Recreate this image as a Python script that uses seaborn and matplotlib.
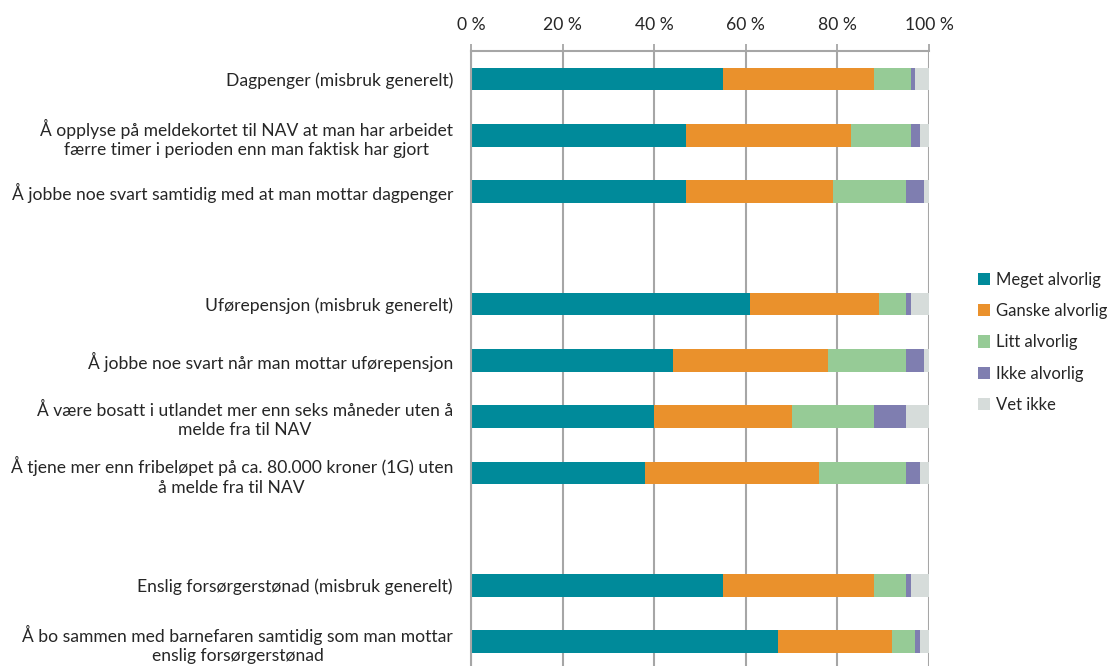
import numpy as np
import pandas as pd
import seaborn as sns
import matplotlib.pyplot as plt
from matplotlib.patches import Patch

# spørsmål (tomme plasser gir mellomrom mellom gruppene)
kategorier = [
    "Dagpenger (misbruk generelt)",
    "Å opplyse på meldekortet til NAV at man har arbeidet\nfærre timer i perioden enn man faktisk har gjort",
    "Å jobbe noe svart samtidig med at man mottar dagpenger",
    "Uførepensjon (misbruk generelt)",
    "Å jobbe noe svart når man mottar uførepensjon",
    "Å være bosatt i utlandet mer enn seks måneder uten å\nmelde fra til NAV",
    "Å tjene mer enn fribeløpet på ca. 80.000 kroner (1G) uten\nå melde fra til NAV",
    "Enslig forsørgerstønad (misbruk generelt)",
    "Å bo sammen med barnefaren samtidig som man mottar\nenslig forsørgerstønad",
]
rekkefolge = kategorier[:3] + [" "] + kategorier[3:7] + ["  "] + kategorier[7:]

serier = ["Meget alvorlig", "Ganske alvorlig", "Litt alvorlig", "Ikke alvorlig", "Vet ikke"]
meget = [55, 47, 47, 61, 44, 40, 38, 55, 67]
ganske = [33, 36, 32, 28, 34, 30, 38, 33, 25]
litt = [8, 13, 16, 6, 17, 18, 19, 7, 5]
ikke = [1, 2, 4, 1, 4, 7, 3, 1, 1]
vet_ikke = [3, 2, 1, 4, 1, 5, 2, 4, 2]
farger = ["#008A9A", "#EA912C", "#96CB96", "#7F7EB0", "#D6DCDA"]

df = pd.DataFrame({"kategori": kategorier, serier[0]: meget, serier[1]: ganske,
                   serier[2]: litt, serier[3]: ikke, serier[4]: vet_ikke})
# kumulative summer for stablede søyler
kum = df[serier].cumsum(axis=1)
kum["kategori"] = df["kategori"]

sns.set_style("white")
plt.rcParams["font.family"] = ["Lato", "DejaVu Sans"]
fs = 12.6

fig = plt.figure(figsize=(11.09, 6.66), dpi=100)
ax = fig.add_axes([0.4247, -0.0056, 0.413, 0.929])

# tegner bakerste serie først
for s, c in reversed(list(zip(serier, farger))):
    sns.barplot(data=kum, x=s, y="kategori", order=rekkefolge, color=c,
                width=0.4, linewidth=0, saturation=1, ax=ax)

ax.set_xlim(0, 100)
ax.set_ylim(len(rekkefolge) - 0.5, -0.5)
ax.set_xlabel("")
ax.set_ylabel("")
ax.xaxis.tick_top()
ax.set_xticks(np.arange(0, 101, 20))
ax.set_xticklabels([f"{v} %" for v in range(0, 101, 20)], fontsize=fs)
ax.tick_params(axis="x", which="major", length=5, width=1.3, color="#A6A6A6", pad=8)
ax.grid(axis="x", color="#A6A6A6", linewidth=1.5)
ax.set_axisbelow(True)

# etiketter midt på radene, streker på grensene
ax.set_yticks(range(len(rekkefolge)))
ax.set_yticklabels(rekkefolge, fontsize=fs, multialignment="center", linespacing=1.25)
ax.tick_params(axis="y", which="major", length=0, pad=13)
ax.set_yticks(np.arange(-0.5, len(rekkefolge), 1), minor=True)
ax.tick_params(axis="y", which="minor", length=5, width=1.3, color="#A6A6A6")

for side in ["right", "bottom"]:
    ax.spines[side].set_visible(False)
for side in ["top", "left"]:
    ax.spines[side].set_color("#A6A6A6")
    ax.spines[side].set_linewidth(1.5)

handles = [Patch(facecolor=c, edgecolor="none", label=s) for s, c in zip(serier, farger)]
fig.legend(handles=handles, loc="center left", bbox_to_anchor=(0.877, 0.486),
           frameon=False, fontsize=12, handlelength=0.75, handleheight=0.75,
           handletextpad=0.35, labelspacing=0.92, borderaxespad=0, borderpad=0.3)

fig.savefig("out.png", dpi=100)
